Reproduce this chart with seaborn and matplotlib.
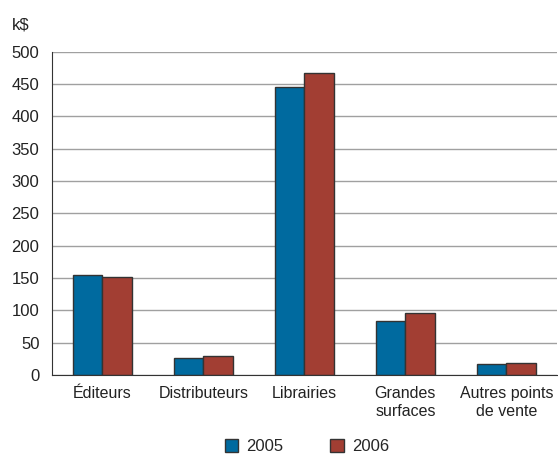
import pandas as pd
import matplotlib.pyplot as plt
import seaborn as sns

categories = ['Éditeurs', 'Distributeurs', 'Librairies', 'Grandes\nsurfaces', 'Autres points\nde vente']
val_2005 = [155, 27, 446, 84, 17]
val_2006 = [152, 30, 468, 96, 19]
years = ['2005', '2006']

df = pd.DataFrame({
    'cat': categories * 2,
    'year': [years[0]] * 5 + [years[1]] * 5,
    'value': val_2005 + val_2006,
})

sns.set_style('white')
plt.rcParams['font.family'] = ['Liberation Sans', 'DejaVu Sans']

fig = plt.figure(figsize=(5.58, 4.59), dpi=100)
ax = fig.add_axes([0.093, 0.183, 0.905, 0.704])

palette = {'2005': '#006a9f', '2006': '#a23e33'}
sns.barplot(data=df, x='cat', y='value', hue='year', palette=palette,
            width=0.58, edgecolor='#333333', linewidth=1, saturation=1, ax=ax)

ax.set_ylim(0, 500)
ax.set_xlim(-0.5, 4.5)
ax.set_yticks(range(0, 501, 50))
ax.yaxis.grid(True, color='#a0a0a0', linewidth=1)
ax.set_axisbelow(True)
for s in ['top', 'right']:
    ax.spines[s].set_visible(False)
ax.spines['left'].set_color('#333333')
ax.spines['bottom'].set_color('#333333')
ax.set_xlabel('')
ax.set_ylabel('')

ax.tick_params(axis='y', length=6, width=1, color='#333333', labelsize=12, labelcolor='#222222', pad=3)
ax.tick_params(axis='x', which='major', length=0, labelsize=11.5, labelcolor='#222222', pad=8)
ax.set_xticks([-0.5, 0.5, 1.5, 2.5, 3.5], minor=True)
ax.tick_params(axis='x', which='minor', length=7, width=1, color='#333333', direction='out')

fig.text(0.022, 0.935, 'k$', fontsize=12, color='#222222')

handles, labels = ax.get_legend_handles_labels()
ax.get_legend().remove()
fig.legend(handles, labels, loc='center', bbox_to_anchor=(0.55, 0.027), ncol=2, frameon=False,
           fontsize=12, handlelength=0.8, handleheight=0.8, columnspacing=2.8, handletextpad=0.5)

fig.savefig('out.png', dpi=100)
